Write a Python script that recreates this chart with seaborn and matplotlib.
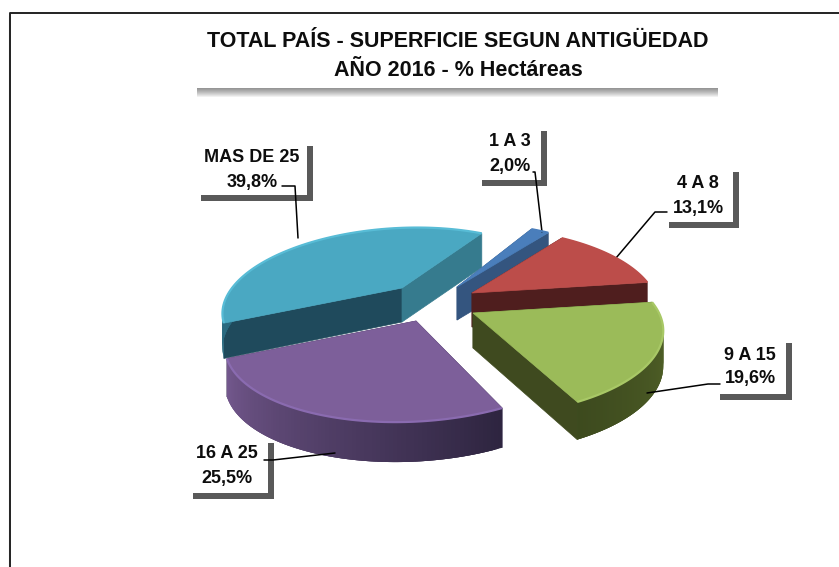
import numpy as np
import matplotlib
matplotlib.use('Agg')
import matplotlib.pyplot as plt
from matplotlib.patches import Polygon, Rectangle
import seaborn as sns

# datos
categorias = ['1 A 3', '4 A 8', '9 A 15', '16 A 25', 'MAS DE 25']
porcentajes = [2.0, 13.1, 19.6, 25.5, 39.8]
etiquetas_pct = ['2,0%', '13,1%', '19,6%', '25,5%', '39,8%']
titulo = ['TOTAL PAÍS - SUPERFICIE SEGUN ANTIGÜEDAD', 'AÑO 2016 - % Hectáreas']

# aspecto de cada porcion
vertices = [(457, 287), (472, 293), (473, 313), (416, 321), (402, 288)]
radios = [180, 182, 186, 182, 170]
alturas = [33, 34, 35, 37, 34]
color_sup = ['#4a7ebb', '#bc4d4a', '#9bbb59', '#7d5f9a', '#4aa8c2']
color_ini = ['#34557f', '#4f1e1e', '#3f4a1f', '#33284a', '#1f4a5c']
color_fin = ['#34557f', '#4f1e1e', '#3f4a1f', '#33284a', '#367b8e']
color_borde = ['#4a7ebb', '#bc4d4a', '#a8c866', '#8a6bb0', '#58bcd6']
pared = [('#34557f', '#34557f'), ('#4f1e1e', '#4f1e1e'), ('#56682a', '#3d4a1e'),
         ('#2e2540', '#75598f'), ('#2a6a80', '#2a6a80')]
orden = [4, 0, 1, 3, 2]

# recuadros de etiquetas: esquina derecha-abajo, ancho, alto, centro del texto, lineas guia
cajas = [(547, 186, 65, 55), (739, 228, 70, 56), (792, 400, 72, 57), (274, 499, 81, 56), (313, 201, 112, 55)]
centros = [(510, 142, 166), (698, 183, 208), (750, 355, 379), (227, 454, 478), (252, 158, 182)]
guias = [[(533, 172), (535, 172), (542, 232)],
         [(667, 212), (655, 212), (616, 258)],
         [(720, 384), (708, 384), (647, 393)],
         [(264, 460), (273, 460), (335, 453)],
         [(282, 186), (295, 186), (298, 238)]]

ANG_INICIO = 297.7
P = 0.2195
K = 0.4336


def punto(i, t):
    """Proyecta el angulo t (grados) sobre el borde de la porcion i."""
    a = np.radians(t)
    s = 1 / (1 - P * np.sin(a))
    dy = radios[i] * np.sin(a) * K * s
    dx = radios[i] * np.cos(a) * s + (vertices[i][0] - 480) * 0.0032 * dy
    return vertices[i][0] + dx, vertices[i][1] + dy


def altura(i, t):
    return alturas[i] + 3 * max(np.sin(np.radians(t)), 0)


def dibujar_porcion(ax, i, t0, t1):
    ts = np.linspace(t0, t1, 90)
    borde = np.array([punto(i, t) for t in ts])
    ax0, ay0 = vertices[i]
    h = alturas[i]

    # caras radiales
    for t, c in ((t0, color_ini[i]), (t1, color_fin[i])):
        x, y = punto(i, t)
        ax.add_patch(Polygon([(ax0, ay0), (x, y), (x, y + altura(i, t)), (ax0, ay0 + h)],
                             facecolor=c, edgecolor=c, lw=0.5))

    # pared exterior con degradado, cada tramo pisa al siguiente para que no se vean cortes
    cols = sns.blend_palette(list(pared[i]), len(ts))
    for k in range(len(ts) - 1):
        if np.sin(np.radians(ts[k])) < -0.02:
            continue
        k2 = min(k + 3, len(ts) - 1)
        x0, y0 = borde[k]
        x1, y1 = borde[k2]
        ax.add_patch(Polygon([(x0, y0), (x1, y1), (x1, y1 + altura(i, ts[k2])), (x0, y0 + altura(i, ts[k]))],
                             facecolor=cols[k], edgecolor='none', lw=0))

    # cara superior
    ax.add_patch(Polygon(np.vstack([[ax0, ay0], borde]), facecolor=color_sup[i],
                         edgecolor=color_sup[i], lw=0.5))
    ax.plot(borde[:, 0], borde[:, 1], color=color_borde[i], lw=1.6, solid_capstyle='butt')


sns.set_theme(style='white')
plt.rcParams['font.family'] = ['Liberation Sans', 'DejaVu Sans']

fig = plt.figure(figsize=(8.39, 5.67), dpi=100)
ax = fig.add_axes([0, 0, 1, 1])
ax.set_xlim(0, 839)
ax.set_ylim(567, 0)
ax.axis('off')

# marco
ax.plot([8.5, 8.5], [16, 567], color='#e6e6e6', lw=1.0)
ax.plot([10, 10, 839], [567, 13, 13], color='#222222', lw=1.4)

# titulo con sombra solo por debajo
for k in range(9, 0, -1):
    ax.add_patch(Rectangle((197, 86), 521, 2 + k, facecolor='black', edgecolor='none', alpha=0.055))
ax.add_patch(Rectangle((195, 24), 525, 64, facecolor='white', edgecolor='none'))
ax.text(458, 41.5, titulo[0], ha='center', va='center', fontsize=15.5, fontweight='bold', color='#0d0d0d')
ax.text(458, 71, titulo[1], ha='center', va='center', fontsize=15.5, fontweight='bold', color='#0d0d0d')

# porciones
angulos = np.cumsum([0] + porcentajes) * 3.6 + ANG_INICIO
for i in orden:
    dibujar_porcion(ax, i, angulos[i], angulos[i + 1])

# recuadros, guias y textos
for i in range(len(categorias)):
    xd, yd, w, h = cajas[i]
    ax.add_patch(Rectangle((xd - 6, yd - h), 6, h, facecolor='#595959', edgecolor='none'))
    ax.add_patch(Rectangle((xd - w, yd - 6), w, 6, facecolor='#595959', edgecolor='none'))
    g = np.array(guias[i])
    ax.plot(g[:, 0], g[:, 1], color='black', lw=1.1, zorder=1.5)
    cx, y1, y2 = centros[i]
    ax.text(cx, y1, categorias[i], ha='center', va='center', fontsize=13, fontweight='bold', color='#0d0d0d')
    ax.text(cx, y2, etiquetas_pct[i], ha='center', va='center', fontsize=13, fontweight='bold', color='#0d0d0d')

plt.savefig('out.png', dpi=100)
